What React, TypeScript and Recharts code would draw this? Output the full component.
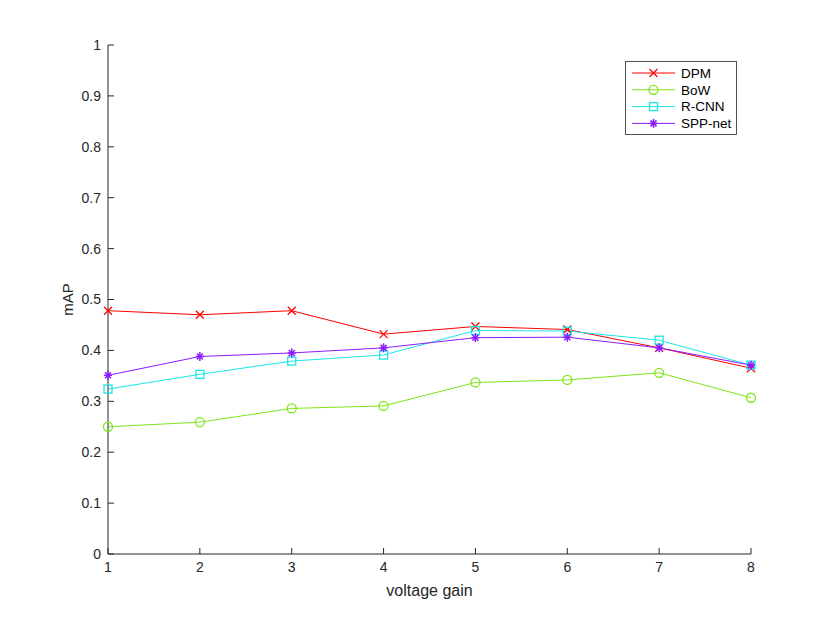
import React from 'react';
import { LineChart, Line, XAxis, YAxis } from 'recharts';

const gains = [1, 2, 3, 4, 5, 6, 7, 8];
const dpm = [0.478, 0.47, 0.478, 0.432, 0.447, 0.441, 0.405, 0.365];
const bow = [0.25, 0.259, 0.286, 0.291, 0.337, 0.342, 0.356, 0.307];
const rcnn = [0.324, 0.353, 0.379, 0.391, 0.439, 0.438, 0.42, 0.371];
const sppnet = [0.351, 0.388, 0.395, 0.405, 0.425, 0.426, 0.405, 0.371];
const yTicks = [0, 0.1, 0.2, 0.3, 0.4, 0.5, 0.6, 0.7, 0.8, 0.9, 1];

const data = gains.map((g, i) => ({
  gain: g,
  DPM: dpm[i],
  BoW: bow[i],
  'R-CNN': rcnn[i],
  'SPP-net': sppnet[i],
}));

const series = [
  { key: 'DPM', color: '#ff0000', marker: 'x' },
  { key: 'BoW', color: '#7fe61a', marker: 'o' },
  { key: 'R-CNN', color: '#1ae6e6', marker: 's' },
  { key: 'SPP-net', color: '#8a1aff', marker: '*' },
];

const FONT = '"Liberation Sans", Arial, Helvetica, sans-serif';
const AXIS = '#262626';
const TICK_MARGIN = 7;

// marker glyphs like matlab's
const marker = (kind: string, cx: number, cy: number, color: string, key?: any) => {
  const r = 4;
  if (kind === 'x')
    return (
      <g key={key} stroke={color} strokeWidth={1.3}>
        <line x1={cx - r} y1={cy - r} x2={cx + r} y2={cy + r} />
        <line x1={cx - r} y1={cy + r} x2={cx + r} y2={cy - r} />
      </g>
    );
  if (kind === 'o')
    return <circle key={key} cx={cx} cy={cy} r={r + 0.5} fill="none" stroke={color} strokeWidth={1.3} />;
  if (kind === 's')
    return <rect key={key} x={cx - r} y={cy - r} width={2 * r} height={2 * r} fill="none" stroke={color} strokeWidth={1.3} />;
  return (
    <g key={key} stroke={color} strokeWidth={1.5}>
      <line x1={cx - r} y1={cy} x2={cx + r} y2={cy} />
      <line x1={cx} y1={cy - r - 0.5} x2={cx} y2={cy + r + 0.5} />
      <line x1={cx - r + 1} y1={cy - r + 1} x2={cx + r - 1} y2={cy + r - 1} />
      <line x1={cx - r + 1} y1={cy + r - 1} x2={cx + r - 1} y2={cy - r + 1} />
    </g>
  );
};

const YTick = (props: any) => {
  const { x, y, payload } = props;
  const ax = x + TICK_MARGIN;
  return (
    <g>
      <line x1={ax} y1={y} x2={ax + 6} y2={y} stroke={AXIS} />
      <text x={x} y={y} dy="0.35em" textAnchor="end" fontSize={14} fontFamily={FONT} fill={AXIS}>
        {String(Math.round(payload.value * 10) / 10)}
      </text>
    </g>
  );
};

const XTick = (props: any) => {
  const { x, y, payload } = props;
  const ay = y - TICK_MARGIN;
  return (
    <g>
      <line x1={x} y1={ay} x2={x} y2={ay - 6} stroke={AXIS} />
      <text x={x} y={y} dy="0.8em" textAnchor="middle" fontSize={14} fontFamily={FONT} fill={AXIS}>
        {payload.value}
      </text>
    </g>
  );
};

const LegendBox = () => (
  <svg width={112} height={74} style={{ display: 'block' }}>
    <rect x={0.5} y={0.5} width={111} height={73} fill="#fff" stroke={AXIS} strokeWidth={0.8} />
    {series.map((s, i) => {
      const cy = 12 + i * 16.8;
      return (
        <g key={s.key}>
          <line x1={7} y1={cy} x2={50} y2={cy} stroke={s.color} strokeWidth={1} />
          {marker(s.marker, 28.5, cy, s.color)}
          <text x={56} y={cy} dy="0.35em" fontSize={13.5} fontFamily={FONT} fill="#000">
            {s.key}
          </text>
        </g>
      );
    })}
  </svg>
);

export default function App() {
  return (
    <div style={{ position: 'absolute', left: 0, top: 0, width: 830, height: 623, background: '#fff' }}>
      <LineChart width={830} height={623} data={data} margin={{ top: 45, right: 79, bottom: 39, left: 58 }}>
        <XAxis
          dataKey="gain"
          type="number"
          domain={[1, 8]}
          ticks={gains}
          height={30}
          stroke={AXIS}
          tickSize={0}
          tickMargin={TICK_MARGIN}
          tick={<XTick />}
          label={{
            content: (p: any) => {
              const vb = p.viewBox;
              return (
                <text x={vb.x + vb.width / 2} y={vb.y + 42} textAnchor="middle" fontSize={16} fontFamily={FONT} fill={AXIS}>
                  voltage gain
                </text>
              );
            },
          }}
        />
        <YAxis
          type="number"
          domain={[0, 1]}
          ticks={yTicks}
          width={50}
          stroke={AXIS}
          tickSize={0}
          tickMargin={TICK_MARGIN}
          tick={<YTick />}
          label={{
            content: (p: any) => {
              const vb = p.viewBox;
              const cx = vb.x + 15;
              const cy = vb.y + vb.height / 2;
              return (
                <text x={cx} y={cy} transform={`rotate(-90 ${cx} ${cy})`} textAnchor="middle" fontSize={15} fontFamily={FONT} fill={AXIS}>
                  mAP
                </text>
              );
            },
          }}
        />
        {series.map((s) => (
          <Line
            key={s.key}
            dataKey={s.key}
            type="linear"
            stroke={s.color}
            strokeWidth={1}
            isAnimationActive={false}
            dot={(p: any) => marker(s.marker, p.cx, p.cy, s.color, `${s.key}-${p.index}`)}
            activeDot={false}
          />
        ))}
      </LineChart>
      <div style={{ position: 'absolute', left: 625, top: 61 }}>
        <LegendBox />
      </div>
    </div>
  );
}
